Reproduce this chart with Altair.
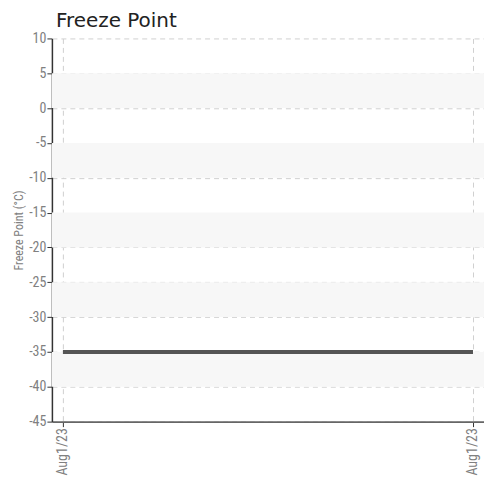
import altair as alt
import pandas as pd

# Data
times = ["2023-08-01T06:00:00", "2023-08-01T18:00:00"]
freeze_point = [-35, -35]
band_top = [5, -5, -15, -25, -35]
band_bottom = [0, -10, -20, -30, -40]
y_ticks = [10, 5, 0, -5, -10, -15, -20, -25, -30, -35, -40, -45]

line_df = pd.DataFrame({"time": times, "fp": freeze_point})
band_df = pd.DataFrame({"top": band_top, "bottom": band_bottom})

W, H = 433, 384
label_font = "Liberation Sans Narrow, Roboto Condensed, DejaVu Sans Condensed, sans-serif"

y_scale = alt.Scale(domain=[-45, 10], nice=False, zero=False)
y_axis = alt.Axis(title="Freeze Point (°C)", values=y_ticks, labelExpr="datum.value + ''")

x_scale = alt.Scale(
    domain=[
        alt.DateTime(year=2023, month=8, date=1, hours=5, minutes=40, seconds=40),
        alt.DateTime(year=2023, month=8, date=1, hours=18, minutes=19, seconds=20),
    ],
    nice=False,
)

bands = alt.Chart(band_df).mark_rect(color="#f7f7f7").encode(
    x=alt.value(0),
    x2=alt.value(W),
    y=alt.Y("top:Q", scale=y_scale, axis=y_axis),
    y2="bottom:Q",
)

line = alt.Chart(line_df).mark_line(color="#555555", strokeWidth=4).encode(
    x=alt.X(
        "time:T",
        scale=x_scale,
        axis=alt.Axis(
            title=None,
            values=[
                alt.DateTime(year=2023, month=8, date=1, hours=6),
                alt.DateTime(year=2023, month=8, date=1, hours=18),
            ],
            format="%b%-d/%y",
            labelAngle=-90,
            labelAlign="right",
            labelBaseline="middle",
            labelFontSize=14,
        ),
    ),
    y=alt.Y("fp:Q", scale=y_scale, axis=y_axis),
)

chart = (
    alt.layer(bands, line)
    .properties(
        width=W,
        height=H,
        padding={"left": 4, "top": 3, "right": 0, "bottom": 2},
        title=alt.TitleParams(
            "Freeze Point",
            anchor="start",
            frame="group",
            dx=4,
            fontSize=20,
            fontWeight="normal",
            font="DejaVu Sans",
            color="#222222",
            offset=0,
        ),
    )
    .configure_view(stroke=None)
    .configure_axis(
        labelFont=label_font,
        labelFontSize=14,
        labelColor="#808080",
        titleFont=label_font,
        titleFontSize=12,
        titleFontWeight="normal",
        titleColor="#808080",
        gridColor="#d0d0d0",
        gridDash=[5, 4],
        gridWidth=1,
        domainColor="#333333",
        tickColor="#333333",
        tickSize=5,
        labelPadding=1,
    )
    .configure_axisX(domainColor="#666666", domainWidth=2)
    .configure_axisY(domainWidth=1.5, titlePadding=3)
)

chart.save("out.html", embed_options={"renderer": "svg", "actions": False})
